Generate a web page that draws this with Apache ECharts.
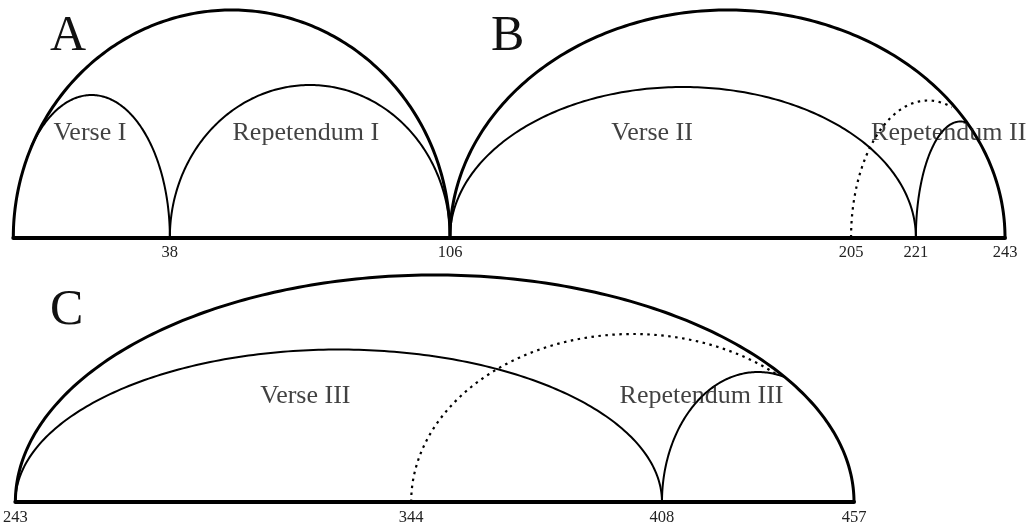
<!DOCTYPE html>
<html>
<head>
<meta charset="utf-8">
<script src="https://cdn.jsdelivr.net/npm/echarts@6/dist/echarts.min.js"></script>
<style>
html,body{margin:0;padding:0;background:#fff;}
#chart{width:1026px;height:527px;}
</style>
</head>
<body>
<div id="chart"></div>
<script>
// ---- data: arcs as [start, end, relative height] ----
const outerA   = [0, 106, 227.5];
const verseI   = [0, 38, 142.5];
const repI     = [38, 106, 152.5];
const outerB   = [106, 243, 227.5];
const verseII  = [106, 221, 150.5];
const repII    = [221, 243, 116];
const dottedB  = [205, 243, 137];
const outerC   = [243, 457, 227];
const verseIII = [243, 408, 152.5];
const repIII   = [408, 457, 130];
const dottedC  = [344, 457, 168];

// tick labels per panel
const ticksA = [38, 106];
const ticksB = [205, 221, 243];
const ticksC = [243, 344, 408, 457];

// section names
const namesA = ['Verse I', 'Repetendum I'];
const namesB = ['Verse II', 'Repetendum II'];
const namesC = ['Verse III', 'Repetendum III'];
const panelLetters = ['A', 'B', 'C'];

const SERIF = '"Liberation Serif", "Times New Roman", serif';

function makeRender(outer, lineWidth, dash, tol) {
  return function (params, api) {
    const s = api.value(0), e = api.value(1), h = api.value(2);
    const cx = (s + e) / 2, a = (e - s) / 2;
    const N = 200;
    const paths = [];
    let cur = [];
    for (let k = 0; k <= N; k++) {
      const th = Math.PI - Math.PI * k / N;
      const x = cx + a * Math.cos(th);
      const y = h * Math.sin(th);
      let inside = true;
      if (outer) {
        const OC = (outer[0] + outer[1]) / 2, OA = (outer[1] - outer[0]) / 2;
        const t = (x - OC) / OA;
        const yo = outer[2] * Math.sqrt(Math.max(0, 1 - t * t));
        inside = y <= yo - tol;
      }
      if (inside) {
        cur.push(api.coord([x, y]));
      } else if (cur.length) {
        paths.push(cur); cur = [];
      }
    }
    if (cur.length) paths.push(cur);
    return {
      type: 'group',
      children: paths.filter(p => p.length > 1).map(p => ({
        type: 'polyline',
        shape: { points: p },
        style: { stroke: '#000', lineWidth: lineWidth, fill: null, lineDash: dash || null }
      }))
    };
  };
}

function arcSeries(gridIdx, arcs, outer, lw, dash, tol) {
  return {
    type: 'custom',
    xAxisIndex: gridIdx, yAxisIndex: gridIdx,
    coordinateSystem: 'cartesian2d',
    renderItem: makeRender(outer, lw, dash, tol || -0.5),
    data: arcs,
    clip: false,
    silent: true,
    z: 3
  };
}

function labelSeries(gridIdx, pts) {
  return {
    type: 'scatter',
    xAxisIndex: gridIdx, yAxisIndex: gridIdx,
    symbolSize: 0,
    silent: true,
    data: pts,
    label: {
      show: true, position: 'inside',
      formatter: p => p.data[2],
      fontFamily: SERIF, fontSize: 26, color: '#111'
    },
    z: 5
  };
}

const grids = [
  { left: 13.3, right: 1026 - 450, top: 7.5, bottom: 289.5 },
  { left: 450, right: 1026 - 1005, top: 7.5, bottom: 289.5 },
  { left: 12, right: 1026 - 854, top: 272, bottom: 25 }
];

function xAx(gridIdx, min, max, ticks) {
  return {
    type: 'value', gridIndex: gridIdx, min: min, max: max,
    splitLine: { show: false },
    axisTick: { show: false },
    axisLine: { show: true, onZero: false, lineStyle: { color: '#000', width: 4 } },
    axisLabel: {
      show: true, customValues: ticks, margin: 7,
      fontFamily: SERIF, fontSize: 16.5, color: '#222',
      showMinLabel: true, showMaxLabel: true
    }
  };
}
function yAx(gridIdx) {
  return { type: 'value', gridIndex: gridIdx, min: 0, max: 230, show: false };
}

const chart = echarts.init(document.getElementById('chart'), null, { renderer: 'canvas' });
chart.setOption({
  backgroundColor: '#fff',
  animation: false,
  grid: grids,
  xAxis: [xAx(0, 0, 106, ticksA), xAx(1, 106, 243, ticksB), xAx(2, 243, 457, ticksC)],
  yAxis: [yAx(0), yAx(1), yAx(2)],
  series: [
    arcSeries(0, [outerA], null, 3),
    arcSeries(0, [verseI, repI], outerA, 2),
    arcSeries(1, [outerB], null, 3),
    arcSeries(1, [verseII, repII], outerB, 2),
    arcSeries(1, [dottedB], outerB, 2.2, [2.5, 4.5], 3.5),
    arcSeries(2, [outerC], null, 3),
    arcSeries(2, [verseIII, repIII], outerC, 2),
    arcSeries(2, [dottedC], outerC, 2.2, [2.5, 4.5], 3.5),
    labelSeries(0, [[18.6, 104.5, namesA[0]], [71, 104.5, namesA[1]]]),
    labelSeries(1, [[155.9, 104.5, namesB[0]], [229.1, 104.5, namesB[1]]]),
    labelSeries(2, [[317, 105.5, namesC[0]], [418.1, 105.5, namesC[1]]])
  ],
  graphic: [
    { type: 'text', left: 50, top: 12, style: { text: panelLetters[0], font: '50px ' + SERIF, fill: '#111' } },
    { type: 'text', left: 491, top: 12, style: { text: panelLetters[1], font: '50px ' + SERIF, fill: '#111' } },
    { type: 'text', left: 50, top: 286, style: { text: panelLetters[2], font: '50px ' + SERIF, fill: '#111' } }
  ]
});
</script>
</body>
</html>
